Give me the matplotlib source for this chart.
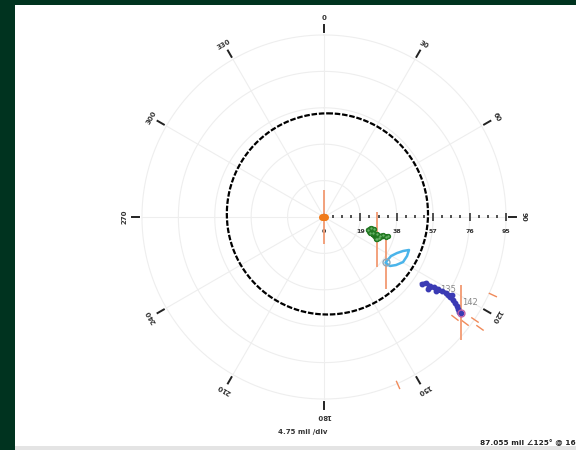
import numpy as np
import matplotlib
matplotlib.use("Agg")
import matplotlib.pyplot as plt
from matplotlib.patches import Rectangle

# amplitude (mil) / phase (deg, clockwise from top)
green_amp = [30.0, 23.9, 25.2, 26.8, 26.9, 29.0, 30.9, 32.2, 34.0, 34.8, 29.5, 30.7, 25.4]
green_ph = [113.0, 106.5, 103.2, 103.5, 108.1, 107.8, 108.7, 107.0, 107.9, 106.5, 112.9, 110.9, 109.2]

loop_amp = [40.0, 40.5, 42.5, 44.9, 47.6, 47.9, 47.5, 45.2, 42.9, 40.3]
loop_ph = [126.0, 120.2, 116.3, 113.3, 111.2, 115.2, 119.7, 123.7, 126.6, 126.6]

blue_amp = [62.0, 63.4, 66.0, 66.0, 68.1, 70.4, 70.1, 72.7, 75.0, 76.5, 78.2, 77.9, 80.1, 81.8, 83.5, 84.8, 86.2, 87.055]
blue_ph = [124.4, 122.9, 123.1, 124.7, 122.5, 122.3, 123.5, 122.1, 121.9, 122.2, 121.4, 122.4, 122.8, 123.3, 123.8, 124.5, 125.1, 125.0]
blue_labels = ["135", "142"]
blue_label_amp = [71.5, 84.9]
blue_label_ph = [122.2, 121.9]

# start points with the orange vertical bars
bar_amp = [0.0, 30.0, 40.0, 87.055]
bar_ph = [0.0, 113.0, 126.0, 125.0]
bar_half = 14.3

# short orange marks near the rim
mark_amp = [97.1, 95.4, 99.9, 95.8, 86.3, 92.1]
mark_ph = [114.8, 124.3, 125.4, 156.2, 127.6, 126.9]

clear_r = 52.5
clear_cx, clear_cy = 1.8, 1.6

rings = [19, 38, 57, 76, 95]
spokes = np.arange(0, 360, 30)
div = 4.75


def xy(amp, ph):
    a = np.asarray(amp, dtype=float)
    p = np.radians(np.asarray(ph, dtype=float))
    return a * np.sin(p), a * np.cos(p)


fig = plt.figure(figsize=(5.76, 4.5), dpi=100, facecolor="#00331f")
fig.patches.append(Rectangle((15 / 576, 0), 1, 445 / 450, transform=fig.transFigure,
                             facecolor="white", edgecolor="none", zorder=-2))
fig.patches.append(Rectangle((15 / 576, 0), 1, 4 / 450, transform=fig.transFigure,
                             facecolor="#e4e4e4", edgecolor="none", zorder=-1))

ax = fig.add_axes([0.1899, 0.0409, 0.7451, 0.9538])
ax.set_xlim(-112, 112)
ax.set_ylim(-112, 112)
ax.set_aspect("equal")
ax.axis("off")
ax.patch.set_alpha(0)

# grid
t = np.linspace(0, 2 * np.pi, 361)
for r in rings:
    ax.plot(r * np.sin(t), r * np.cos(t), color="#eeeeee", lw=0.8, zorder=0)
for s in spokes:
    x, y = xy([0, rings[-1]], [s, s])
    ax.plot(x, y, color="#eeeeee", lw=0.8, zorder=0)

# angle ticks and labels
for s in spokes:
    x, y = xy([96.5, 100.3], [s, s])
    ax.plot(x, y, color="#222222", lw=1.4, zorder=3)
    lx, ly = xy(104, s)
    ax.text(lx, ly, str(s), rotation=-s, ha="center", va="center",
            fontsize=5, color="#333333", fontweight="bold")

# radial scale along 90 deg
ticks = np.arange(0, 95 + div / 2, div)
major = ticks[np.isclose(ticks % 19, 0) | np.isclose(ticks % 19, 19)]
minor = np.array([v for v in ticks if v not in major])
ax.vlines(minor, -0.7, 0.9, color="#222222", lw=1.1, zorder=3)
ax.vlines(major, -2.3, 2.3, color="#222222", lw=1.1, zorder=3)
for v in major:
    ax.text(v, -7.5, "%d" % round(v), ha="center", va="center",
            fontsize=4.5, color="#333333", fontweight="bold")

# clearance circle
ax.plot(clear_cx + clear_r * np.sin(t), clear_cy + clear_r * np.cos(t),
        color="black", lw=1.6, ls=(0, (2.5, 0.8)), zorder=2)

# vertical orange bars
bx, by = xy(bar_amp, bar_ph)
ax.vlines(bx, by - bar_half, by + bar_half, color="#f29a72", lw=1.3, zorder=4)

# rim marks
for a, p in zip(mark_amp, mark_ph):
    x, y = xy([a - 2, a + 2], [p, p])
    ax.plot(x, y, color="#f08a5a", lw=1.0, zorder=2)

# origin point
ax.plot([0, -0.8, 0.6], [0, 0.2, -0.2], "o", color="#f07a1a", ms=4, zorder=5)

# green cluster
gx, gy = xy(green_amp, green_ph)
ax.plot(gx, gy, "-", color="#1d701d", lw=3.0, zorder=5)
ax.plot(gx, gy, "o", color="#237a23", ms=2.8, zorder=5)
ax.plot(gx, gy, ".", color="#6fb86f", ms=1.2, zorder=6)

# light blue loop
lx, ly = xy(loop_amp, loop_ph)
ax.plot(lx, ly, "-", color="#4ab4ea", lw=1.8, zorder=5)
ax.plot(lx[0], ly[0], "o", mfc="none", mec="#8fa8b8", ms=5, mew=1.0, zorder=6)

# blue cluster
tx, ty = xy(blue_label_amp, blue_label_ph)
for s, x, y in zip(blue_labels, tx, ty):
    ax.text(x, y, s, fontsize=6, color="#888888", ha="left", va="center", zorder=4)
ux, uy = xy(blue_amp, blue_ph)
ax.plot(ux, uy, "-", color="#3434a8", lw=2.8, zorder=5)
ax.plot(ux, uy, "o", color="#3a3ab4", ms=3.2, zorder=5)
ax.plot(ux[-1], uy[-1], "o", mfc="none", mec="#c060a8", ms=5, mew=1.0, zorder=6)

fig.text(303 / 576, 1 - 432 / 450, "4.75 mil /div", ha="center", va="center",
         fontsize=5, color="#333333", fontweight="bold")
fig.text(480 / 576, 1 - 443 / 450, "87.055 mil \u2220125\u00b0 @ 16", ha="left",
         va="center", fontsize=5.3, color="#222222", fontweight="bold")

fig.savefig("out.png", dpi=100, facecolor=fig.get_facecolor())
